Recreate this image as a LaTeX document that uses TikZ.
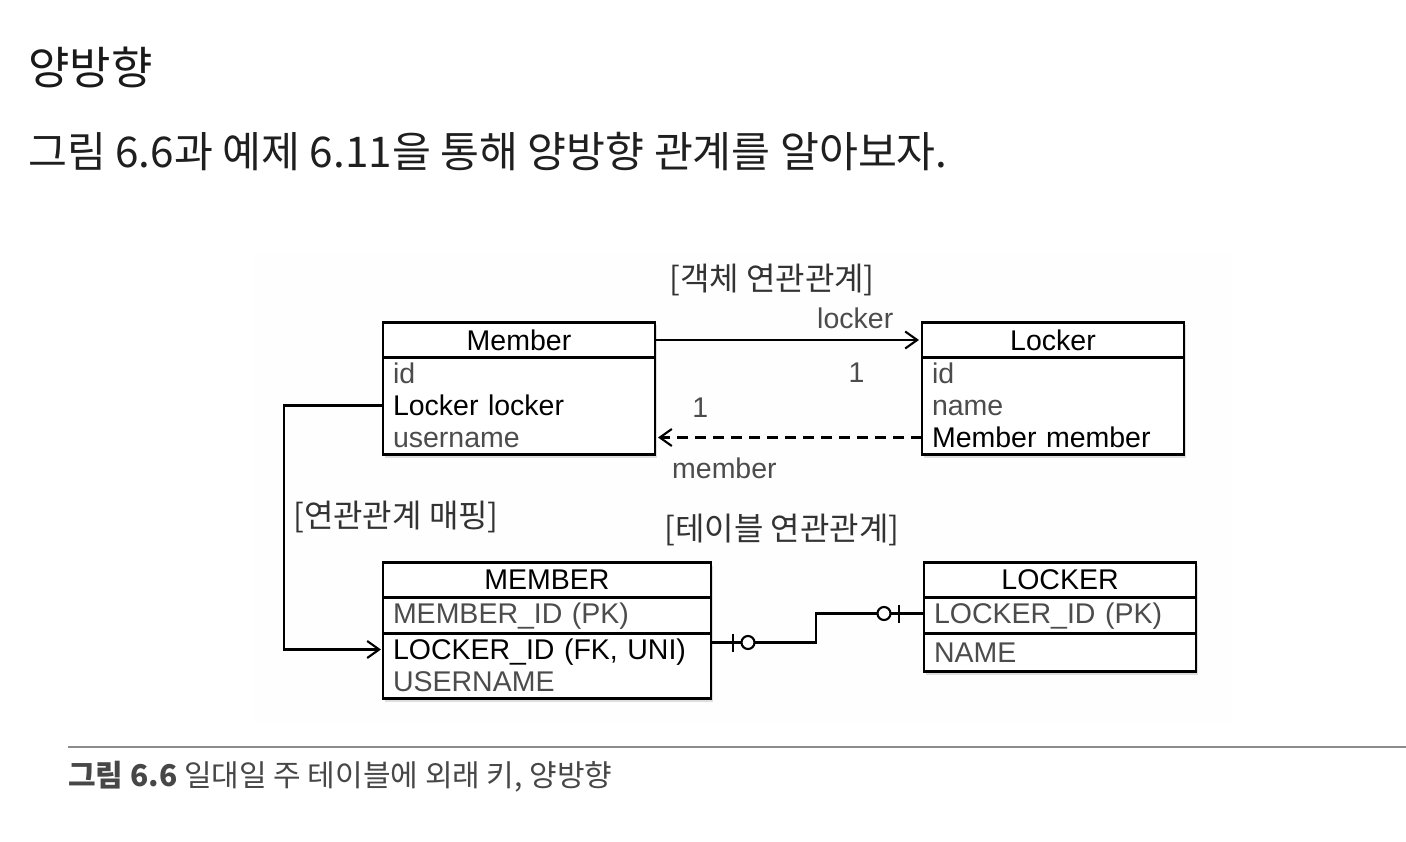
\documentclass[tikz,border=0pt]{standalone}
\usepackage{fontspec}
\setmainfont{Liberation Sans}
\newfontfamily\kr{Noto Sans CJK KR}
\usetikzlibrary{positioning,arrows.meta,shadows,calc}

\definecolor{lighttxt}{gray}{0.3}
\definecolor{captxt}{gray}{0.28}
\definecolor{panel}{gray}{0.995}

\tikzset{
  tblhead/.style={draw, line width=2.6pt, fill=white, minimum width=#1, minimum height=35pt, inner sep=0pt, outer sep=0pt,
    font=\fontsize{28.5}{32}\selectfont, drop shadow={shadow xshift=2pt, shadow yshift=-3pt, opacity=0.25}},
  tblbody/.style={draw, line width=2.6pt, fill=white, minimum width=#1, inner sep=0pt, outer sep=0pt,
    drop shadow={shadow xshift=2pt, shadow yshift=-3pt, opacity=0.25}},
  tblrow/.style={text width=#1, inner xsep=10pt, inner ysep=0pt, outer sep=0pt, minimum height=32pt,
    text height=20pt, text depth=0pt, align=left, text=lighttxt, font=\fontsize{28.5}{32}\selectfont},
  strong/.style={text=black},
  lbl/.style={inner sep=0pt, text=lighttxt, font=\fontsize{28.5}{32}\selectfont},
  krlbl/.style={inner sep=0pt, text=black!80, font=\kr\fontsize{32}{36}\selectfont},
  assoc/.style={line width=2.1pt, -{Straight Barb[length=12pt, width=17pt, line width=2.1pt]}},
  erline/.style={line width=2.1pt},
  ercirc/.style={circle, draw, line width=2.1pt, fill=white, minimum size=13pt, inner sep=0pt}
}

\begin{document}
\begin{tikzpicture}[x=1pt, y=-1pt]
  \useasboundingbox[fill=white] (0,0) rectangle (1406,842);
  \fill[panel] (254,253) rectangle (1232,722);

  \node[anchor=west, inner sep=0pt, text=black!90, font=\kr\fontsize{45}{50}\selectfont] (title) at (28,67) {양방향};
  \node[anchor=west, inner sep=0pt, text=black!88, font=\kr\fontsize{42.3}{46}\selectfont] (intro) at (28,152)
    {그림 6.6과 예제 6.11을 통해 양방향 관계를 알아보자.};

  \node[tblhead=272pt] (memberHead) at (519,340) {Member};
  \node[tblbody=272pt, minimum height=97pt, below=0pt of memberHead] (memberBody) {};
  \node[tblrow=252pt, below=0pt of memberBody.north] (mId) {id};
  \node[tblrow=252pt, strong, below=0pt of mId] (mLocker) {Locker locker};
  \node[tblrow=252pt, below=0pt of mLocker] (mName) {username};

  \node[tblhead=262pt] (lockerHead) at (1053,340) {Locker};
  \node[tblbody=262pt, minimum height=97pt, below=0pt of lockerHead] (lockerBody) {};
  \node[tblrow=242pt, below=0pt of lockerBody.north] (lId) {id};
  \node[tblrow=242pt, below=0pt of lId] (lName) {name};
  \node[tblrow=242pt, strong, below=0pt of lName] (lMember) {Member member};

  \node[tblhead=328pt] (memberTbl) at (547,580) {MEMBER};
  \node[tblbody=328pt, minimum height=36pt, below=0pt of memberTbl] (memberPk) {};
  \node[tblrow=308pt, below=0pt of memberPk.north] (tPk) {MEMBER\_ID (PK)};
  \node[tblbody=328pt, minimum height=65pt, below=0pt of memberPk] (memberRest) {};
  \node[tblrow=308pt, strong, below=0pt of memberRest.north] (tFk) {LOCKER\_ID (FK, UNI)};
  \node[tblrow=308pt, below=0pt of tFk] (tName) {USERNAME};

  \node[tblhead=272pt] (lockerTbl) at (1060,580) {LOCKER};
  \node[tblbody=272pt, minimum height=36pt, below=0pt of lockerTbl] (lockerPk) {};
  \node[tblrow=252pt, below=0pt of lockerPk.north] (lPk) {LOCKER\_ID (PK)};
  \node[tblbody=272pt, minimum height=38pt, below=0pt of lockerPk] (lockerRest) {};
  \node[tblrow=252pt, minimum height=38pt, below=0pt of lockerRest.north] (lNameCol) {NAME};

  \node[krlbl] (objRel) at (772,280) {[객체 연관관계]};
  \node[krlbl] (mapRel) at (396,517) {[연관관계 매핑]};
  \node[krlbl] (tblRel) at (782,530) {[테이블 연관관계]};

  \draw[assoc, shorten >=3pt] (memberHead.east) -- (lockerHead.west)
    node[lbl, pos=0.75, above=10pt] (lblLocker) {locker}
    node[lbl, pos=0.755, below=22pt] (lblOneA) {1};
  \draw[assoc, dashed, dash pattern=on 11pt off 7pt, shorten >=3pt] (lMember.west) -- (mName.east)
    node[lbl, pos=0.83, above=19pt] (lblOneB) {1}
    node[lbl, pos=0.74, below=19pt] (lblMember) {member};

  \draw[assoc, shorten >=2pt] (mLocker.west) -- ++(-99,0) |- (tFk.west);

  \coordinate (fkEnd) at ([yshift=7pt]tFk.east);
  \coordinate (pkEnd) at (lPk.west);
  \draw[erline] (fkEnd) -- ++(105,0) |- (pkEnd);
  \draw[erline] ($(fkEnd)+(22pt,-9pt)$) -- ($(fkEnd)+(22pt,9pt)$);
  \node[ercirc] (fkCirc) at ($(fkEnd)+(37pt,0)$) {};
  \draw[erline] ($(pkEnd)+(-25pt,-9pt)$) -- ($(pkEnd)+(-25pt,9pt)$);
  \node[ercirc] (pkCirc) at ($(pkEnd)+(-40pt,0)$) {};

  \draw[line width=1.2pt, black!45] (68,747) -- (1406,747);
  \node[anchor=west, inner sep=0pt, text=captxt, font=\kr\fontsize{30}{34}\selectfont] (caption) at (68,777)
    {\bfseries 그림 6.6\mdseries{} 일대일 주 테이블에 외래 키, 양방향};
\end{tikzpicture}
\end{document}
